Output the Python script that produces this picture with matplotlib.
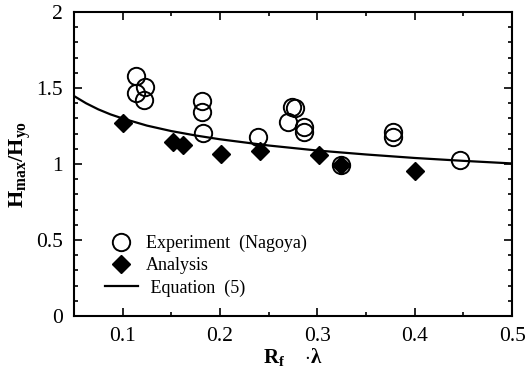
import matplotlib
matplotlib.use("Agg")
import matplotlib.pyplot as plt
from matplotlib.lines import Line2D
from matplotlib.ticker import MultipleLocator

plt.rcParams['font.family'] = ['Liberation Serif', 'DejaVu Serif']
plt.rcParams['mathtext.fontset'] = 'custom'
plt.rcParams['mathtext.rm'] = 'Liberation Serif'
plt.rcParams['mathtext.bf'] = 'Liberation Serif:bold'

# Experiment (Nagoya) - open circles
exp_x = [0.114, 0.1135, 0.123, 0.122, 0.182, 0.182, 0.183, 0.239, 0.2735, 0.277,
         0.270, 0.2865, 0.286, 0.378, 0.378, 0.324, 0.4465]
exp_y = [1.579, 1.47, 1.505, 1.42, 1.416, 1.344, 1.206, 1.18, 1.377, 1.366,
         1.278, 1.245, 1.213, 1.212, 1.18, 0.993, 1.026]

# Analysis - filled diamonds
ana_x = [0.100, 0.1515, 0.162, 0.201, 0.2415, 0.302, 0.324, 0.400]
ana_y = [1.268, 1.147, 1.125, 1.066, 1.088, 1.059, 0.993, 0.956]

# Equation (5) curve
eq_x = [0.05, 0.0625, 0.075, 0.0875, 0.1, 0.125, 0.15, 0.175, 0.2, 0.25, 0.3, 0.35, 0.4, 0.45, 0.5]
eq_y = [1.448, 1.400, 1.360, 1.327, 1.300, 1.253, 1.217, 1.188, 1.163, 1.122, 1.089, 1.063, 1.040, 1.021, 1.004]

xticks = [0.1, 0.2, 0.3, 0.4, 0.5]
yticks = [0, 0.5, 1, 1.5, 2]
xtick_labels = ['0.1', '0.2', '0.3', '0.4', '0.5']
ytick_labels = ['0', '0.5', '1', '1.5', '2']

fig = plt.figure(figsize=(5.28, 3.78), dpi=100)
ax = fig.add_axes([0.140, 0.164, 0.830, 0.804])

ax.plot(eq_x, eq_y, color='black', lw=1.6, zorder=2)
ax.plot(exp_x, exp_y, linestyle='none', marker='o', markersize=12.5,
        markerfacecolor='none', markeredgecolor='black', markeredgewidth=1.4, zorder=3)
ax.plot(ana_x, ana_y, linestyle='none', marker='D', markersize=9.5,
        markerfacecolor='black', markeredgecolor='black', zorder=4)

ax.set_xlim(0.05, 0.5)
ax.set_ylim(0, 2)
ax.set_xticks(xticks)
ax.set_xticklabels(xtick_labels)
ax.set_yticks(yticks)
ax.set_yticklabels(ytick_labels)
ax.xaxis.set_minor_locator(MultipleLocator(0.05))
ax.yaxis.set_minor_locator(MultipleLocator(0.1))
ax.tick_params(which='both', direction='in', top=True, right=True, labelsize=15.5, width=1.2)
ax.tick_params(which='major', length=6, pad=8)
ax.tick_params(which='minor', length=3)
for s in ax.spines.values():
    s.set_linewidth(1.5)

ax.set_xlabel(r'$\mathbf{R_f}$    $\cdot\mathbf{\lambda}$', fontsize=15, labelpad=0)
ax.set_ylabel(r'$\mathbf{H_{max}/H_{yo}}$', fontsize=16, labelpad=2)

handles = [
    Line2D([], [], linestyle='none', marker='o', markersize=12.5, markerfacecolor='none',
           markeredgecolor='black', markeredgewidth=1.4),
    Line2D([], [], linestyle='none', marker='D', markersize=9.5, markerfacecolor='black',
           markeredgecolor='black'),
    Line2D([], [], color='black', lw=1.6),
]
labels = ['Experiment  (Nagoya)', 'Analysis', ' Equation  (5)']
ax.legend(handles, labels, loc='lower left', bbox_to_anchor=(0.055, 0.04), frameon=False,
          fontsize=13, handlelength=1.8, handletextpad=0.45, labelspacing=0.28,
          borderaxespad=0)

fig.savefig('out.png', dpi=100)
